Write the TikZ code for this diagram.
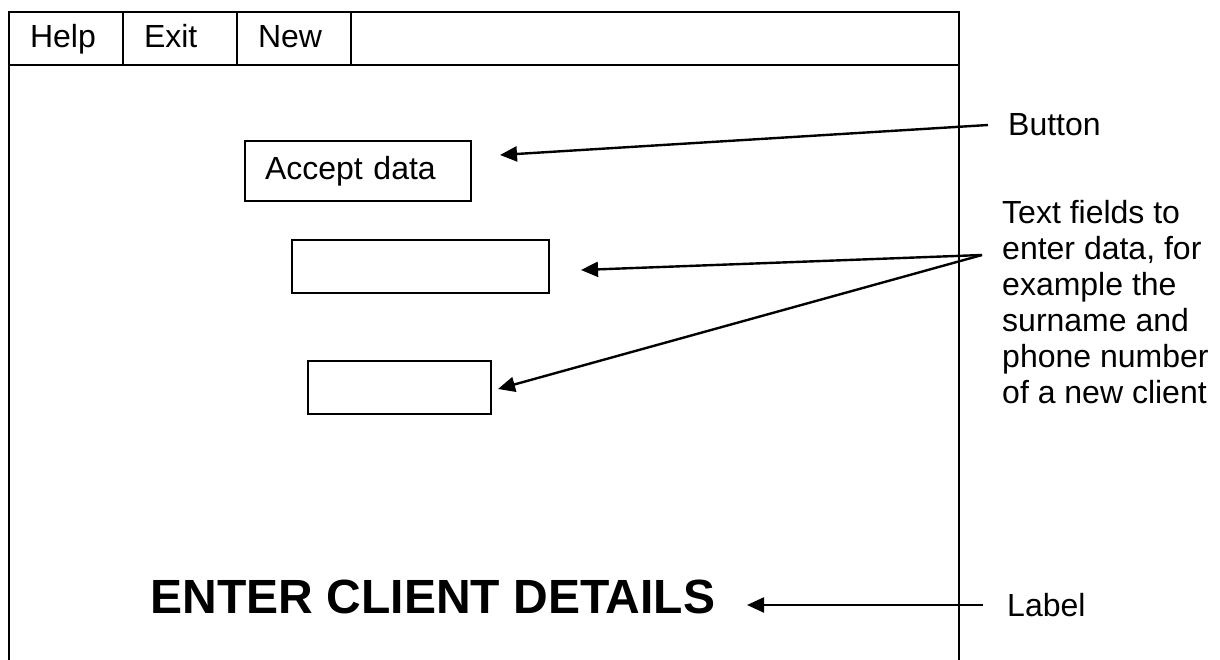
\documentclass[tikz,border=0pt]{standalone}
\usepackage{fontspec}
\setmainfont{Liberation Sans}
\usetikzlibrary{arrows.meta,positioning}

\tikzset{
  box/.style={draw,line width=2pt,inner sep=0pt,align=left,font=\fontsize{32}{36}\selectfont},
  note/.style={anchor=west,inner ysep=0pt,align=left,font=\fontsize{32}{36}\selectfont},
  pointer/.style={-{Triangle[length=17pt,width=15pt]},line width=2.4pt}
}

\begin{document}
\begin{tikzpicture}[x=1pt,y=-1pt]
\useasboundingbox (0,0) rectangle (1220,660);

% window frame and menu bar
\draw[line width=2pt] (9,660) -- (9,12) -- (959,12) -- (959,660);
\draw[line width=2pt] (9,65) -- (959,65);
\foreach \i [count=\n] in {Help,Exit,New}
  \node[box,minimum height=53pt,text width=72pt,inner xsep=21pt,text height=23pt,text depth=4pt,xshift=\n*114pt] (M\n) at (-48,38.5) {\i};

% form controls
\node[box,minimum width=226pt,minimum height=60pt,text width=186pt,inner xsep=20pt] (accept) at (358,171) {Accept data};
\node[box,minimum width=257pt,minimum height=53pt] (field1) at (420.5,266.5) {};
\node[box,minimum width=183pt,minimum height=53pt] (field2) at (399.5,387.5) {};
\node[font=\fontsize{48}{56}\selectfont\bfseries] (title) at (433,597) {ENTER CLIENT DETAILS};

% callouts
\node[note,inner xsep=20pt] (button) at (988,125) {Button};
\node[note,anchor=north west,inner sep=0pt] (fields) at (1002,200) {Text fields to\\enter data, for\\example the\\surname and\\phone number\\of a new client};
\node[note,inner xsep=24pt] (label) at (983,605) {Label};

\coordinate (fsrc) at (982,255);
\coordinate (btip) at (500,155);
\coordinate (f1tip) at (581,270);
\coordinate (f2tip) at (498,389);
\coordinate (ltip) at (747,605);

\draw[pointer] (button.west) -- (btip);
\draw[pointer] (fsrc) -- (f1tip);
\draw[pointer] (fsrc) -- (f2tip);
\draw[pointer] (label.west) -- (ltip);
\end{tikzpicture}
\end{document}
